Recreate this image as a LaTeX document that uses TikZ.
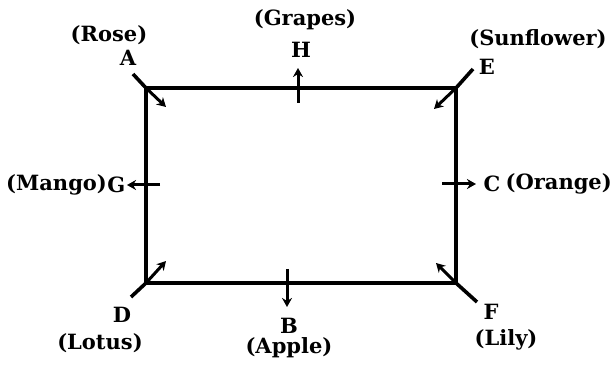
\documentclass[tikz,border=0pt]{standalone}
\usepackage{fontspec}
\setmainfont{DejaVu Serif}
\usetikzlibrary{arrows.meta, positioning}

\begin{document}
\begin{tikzpicture}[
        x=1pt, y=-1pt,
        font=\fontsize{21}{24}\selectfont\bfseries,
        side/.style={line width=3.6pt},
        tick/.style={line width=3.6pt},
        arrow/.style={
            -{Stealth[length=9pt, width=10pt]},
            line width=3pt
        },
        letter/.style={inner sep=1pt},
        flower/.style={inner sep=1pt}
    ]
    \useasboundingbox (0,0) rectangle (614,366);

    % corners of the plot
    \coordinate (nw) at (146,88);
    \coordinate (ne) at (456,88);
    \coordinate (se) at (456,283);
    \coordinate (sw) at (146,283);

    \draw[side] (nw) -- (ne) -- (se) -- (sw) -- cycle;

    % persons and what they like
    \node[letter] (A) at (128,58) {A};
    \node[flower] (rose) at (109,35) {(Rose)};
    \node[letter] (H) at (301,50) {H};
    \node[flower] (grapes) at (305,20) {(Grapes)};
    \node[letter] (E) at (487,67) {E};
    \node[flower] (sunflower) at (538,39) {(Sunflower)};
    \node[flower, anchor=west, inner sep=0pt] (mango) at (6,185) {(Mango)};
    \node[letter, anchor=west, inner sep=0pt] (G) at (mango.east) {G};
    \node[flower, anchor=east, inner sep=0pt] (orange) at (612,184) {(Orange)};
    \node[letter, anchor=east, inner sep=0pt, xshift=-5pt] (C) at (orange.west) {C};
    \node[letter] (D) at (122,315) {D};
    \node[flower] (lotus) at (100,343) {(Lotus)};
    \node[letter] (B) at (289,326) {B};
    \node[flower] (apple) at (289,348) {(Apple)};
    \node[letter] (F) at (491,312) {F};
    \node[flower] (lily) at (506,340) {(Lily)};

    % ends of the ticks and arrows
    \coordinate (atick) at (133,74);
    \coordinate (etick) at (473,69);
    \coordinate (dtick) at (131,297);
    \coordinate (ftick) at (477,302);
    \coordinate (ain) at (166,107);
    \coordinate (ein) at (434,109);
    \coordinate (din) at (166,261);
    \coordinate (fin) at (436,263);
    \coordinate (hin) at (298,103);
    \coordinate (hout) at (298,68);
    \coordinate (bin) at (287,269);
    \coordinate (bout) at (287,307);
    \coordinate (gin) at (160,185);
    \coordinate (gout) at (127,185);
    \coordinate (cin) at (442,184);
    \coordinate (cout) at (476,184);

    \draw[tick] (nw) -- (atick);
    \draw[tick] (ne) -- (etick);
    \draw[tick] (sw) -- (dtick);
    \draw[tick] (se) -- (ftick);

    \draw[arrow] (nw) -- (ain);
    \draw[arrow] (ne) -- (ein);
    \draw[arrow] (sw) -- (din);
    \draw[arrow] (se) -- (fin);
    \draw[arrow] (hin) -- (hout);
    \draw[arrow] (bin) -- (bout);
    \draw[arrow] (gin) -- (gout);
    \draw[arrow] (cin) -- (cout);

\end{tikzpicture}
\end{document}
